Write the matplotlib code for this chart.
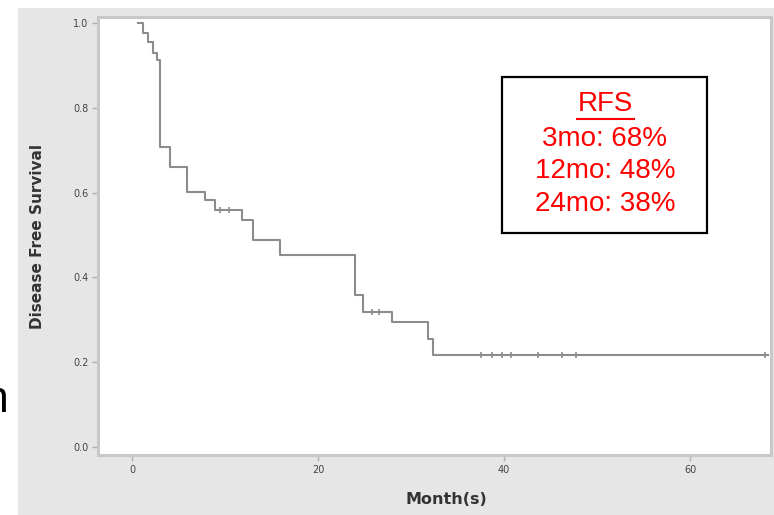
import numpy as np
import matplotlib.pyplot as plt
from matplotlib.patches import Rectangle

# Kaplan-Meier steps: month of each step, survival after it
event_months = [0.65, 1.2, 1.7, 2.25, 2.7, 3.0, 4.1, 5.9, 7.85, 8.9, 11.8, 13.0,
                15.9, 24.0, 24.8, 28.0, 31.8, 32.4]
survival = [1.0, 0.976, 0.955, 0.929, 0.913, 0.708, 0.660, 0.601, 0.583, 0.559,
            0.535, 0.488, 0.453, 0.358, 0.318, 0.295, 0.255, 0.217]
last_month = 68.4

# censored patients (months, survival level)
censor_months = [9.5, 10.4, 25.8, 26.6, 37.5, 38.7, 39.8, 40.7, 43.7, 46.2, 47.7, 68.1]
censor_surv = [0.559, 0.559, 0.318, 0.318, 0.217, 0.217, 0.217, 0.217, 0.217,
               0.217, 0.217, 0.217]

x_ticks = [0, 20, 40, 60]
y_ticks = [0.0, 0.2, 0.4, 0.6, 0.8, 1.0]
box_lines = ['3mo: 68%', '12mo: 48%', '24mo: 38%']

W, H = 774, 515
fig = plt.figure(figsize=(W / 100, H / 100), dpi=100)
fig.patch.set_facecolor('white')

# grey SPSS-style panel behind the plot (its own background axes)
bg = fig.add_axes([18 / W, 0, 1 - 18 / W, 1 - 8 / H])
bg.set_facecolor('#e6e6e6')
bg.set_xticks([])
bg.set_yticks([])
for s in bg.spines.values():
    s.set_visible(False)
bg.set_zorder(0)

ax = fig.add_axes([98 / W, 60 / H, 673 / W, 438 / H])
ax.set_zorder(1)
ax.set_facecolor('white')

# step curve, held flat after the last event until the last follow-up
xs = event_months + [last_month]
ys = survival + [survival[-1]]
ax.step(xs, ys, where='post', color='#8c8c8c', linewidth=1.5)
ax.plot(censor_months, censor_surv, linestyle='none', marker='|', markersize=5,
        color='#8c8c8c', markeredgewidth=1.2)

ax.set_xlim(-3.66, 68.7)
ax.set_ylim(-0.019, 1.014)
ax.set_xticks(x_ticks)
ax.set_yticks(y_ticks)
ax.set_xticklabels([str(v) for v in x_ticks])
ax.set_yticklabels(['%.1f' % v for v in y_ticks])
ax.tick_params(axis='both', direction='out', length=4, width=1, color='#b0b0b0',
               labelsize=7, labelcolor='#444444', pad=3)

for s in ax.spines.values():
    s.set_color('#c8c8c8')
    s.set_linewidth(2.2)

ax.set_xlabel('Month(s)', fontsize=11.5, fontweight='bold', color='#333333')
ax.xaxis.set_label_coords(0.517, -0.085)
ax.set_ylabel('Disease Free Survival', fontsize=11, fontweight='bold', color='#333333')
ax.yaxis.set_label_coords(-0.079, 0.498)

# RFS annotation box
box = Rectangle((502 / W, 1 - 233 / H), 205 / W, 156 / H, transform=fig.transFigure,
                facecolor='white', edgecolor='black', linewidth=1.6, zorder=5)
fig.add_artist(box)
fig.text(605 / W, 1 - 104 / H, 'RFS', color='red', fontsize=20, ha='center',
         va='center', family='Liberation Sans', zorder=6)
fig.add_artist(plt.Line2D([577 / W, 634 / W], [1 - 119 / H, 1 - 119 / H],
                          color='red', linewidth=1.5, zorder=6))
for i, line in enumerate(box_lines):
    fig.text(605 / W, 1 - (139 + 32.5 * i) / H, line, color='red', fontsize=20,
             ha='center', va='center', family='Liberation Sans', zorder=6)

# cut-off slide text at the left edge
fig.text(9 / W, 1 - 412 / H, 'n', color='black', fontsize=32, ha='right',
         va='baseline', family='Liberation Sans')

fig.savefig('out.png', dpi=100, facecolor=fig.get_facecolor())
